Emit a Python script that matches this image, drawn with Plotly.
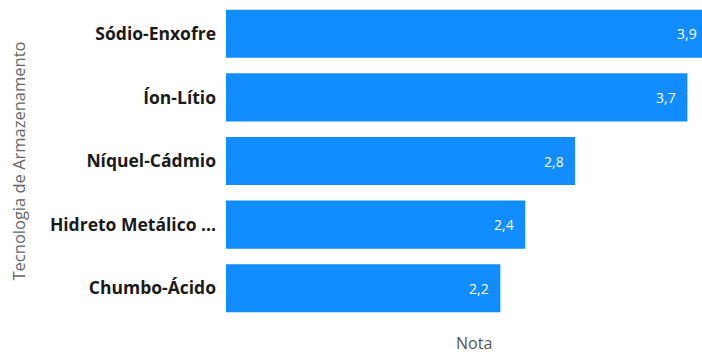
import plotly.graph_objects as go

categorias = ["Sódio-Enxofre", "Íon-Lítio", "Níquel-Cádmio", "Hidreto Metálico ...", "Chumbo-Ácido"]
notas = [3.9, 3.7, 2.8, 2.4, 2.2]

x_max = 3.817

fig = go.Figure(go.Bar(
    y=categorias,
    x=notas,
    orientation="h",
    marker=dict(color="#118DFF", line=dict(width=0)),
    hoverinfo="x+y",
    cliponaxis=True,
))

for cat, v in zip(categorias, notas):
    fig.add_annotation(
        x=min(v, x_max), y=cat, xref="x", yref="y",
        text=f"{v:.1f}".replace(".", ","),
        showarrow=False, xanchor="right", xshift=-3 if v > x_max else -9,
        font=dict(family="Open Sans", size=14, color="white"),
    )

fig.add_annotation(
    text="Nota", xref="paper", yref="paper", x=0.52, y=-0.072,
    xanchor="center", yanchor="middle", showarrow=False,
    font=dict(family="Open Sans", size=16, color="#555555"),
)

fig.update_layout(
    width=702, height=356,
    margin=dict(l=226, r=0, t=2, b=36),
    plot_bgcolor="white", paper_bgcolor="white",
    separators=",.",
    bargap=0.244,
    showlegend=False,
    xaxis=dict(range=[0, x_max], showticklabels=False, showgrid=False, zeroline=False, ticks=""),
    yaxis=dict(autorange="reversed", showgrid=False, zeroline=False, ticks="",
               tickfont=dict(family="Open Sans", size=17.5, color="#1a1a1a", weight="bold"),
               ticklabelstandoff=9,
               title=dict(text="Tecnologia de Armazenamento",
                          font=dict(family="Open Sans", size=16.5, color="#666666"), standoff=20)),
)

fig.write_html("out.html")
